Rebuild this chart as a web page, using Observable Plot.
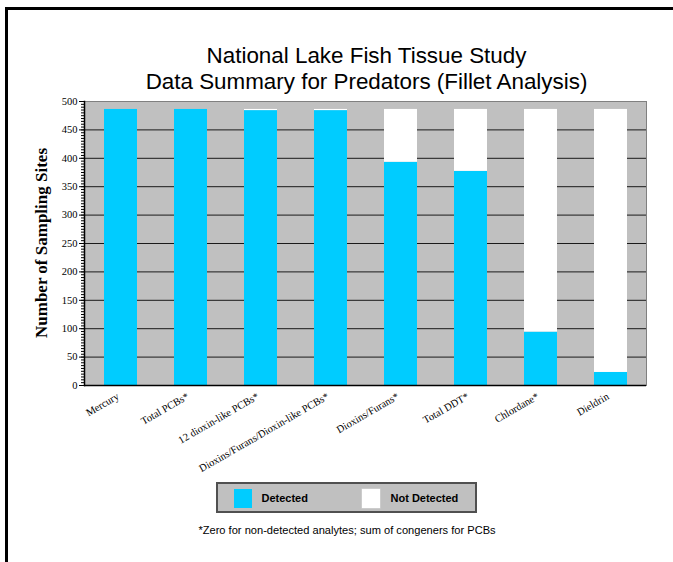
<!DOCTYPE html>
<html><head><meta charset="utf-8">
<script src="https://cdn.jsdelivr.net/npm/d3@7"></script>
<script src="https://cdn.jsdelivr.net/npm/@observablehq/plot@0.6"></script>
<style>
html,body{margin:0;padding:0;background:#fff}
body{width:673px;height:562px;overflow:hidden;position:relative;font-family:"Liberation Sans",Arial,sans-serif;color:#000}
#ftop{position:absolute;left:5px;top:7px;width:668px;height:2.5px;background:#000}
#fleft{position:absolute;left:5px;top:7px;width:2.5px;height:555px;background:#000}
#title{position:absolute;left:0;top:42.7px;width:733px;text-align:center;font-size:22.4px;line-height:26px;white-space:nowrap}
#ylabel{position:absolute;left:42px;top:243px;transform:translate(-50%,-50%) rotate(-90deg);font-family:"Liberation Serif","Times New Roman",serif;font-weight:bold;font-size:17px;white-space:nowrap}
#chart{position:absolute;left:0;top:0}
#legend{position:absolute;left:215.5px;top:482px;width:261px;height:31px;background:#c0c0c0;border:2px solid #505050;box-sizing:border-box}
.sw{position:absolute;top:5px;width:18px;height:19px}
.lt{position:absolute;top:8px;font-weight:bold;font-size:11px;line-height:13px;white-space:nowrap}
#note{position:absolute;left:0;top:524px;width:694px;text-align:center;font-size:11.1px;line-height:13px;white-space:nowrap}
</style></head>
<body>
<div id="ftop"></div>
<div id="fleft"></div>
<div id="title">National Lake Fish Tissue Study<br>Data Summary for Predators (Fillet Analysis)</div>
<div id="chart"></div>
<div id="ylabel">Number of Sampling Sites</div>
<div id="legend">
  <div class="sw" style="left:16px;background:#00CCFF"></div>
  <div class="lt" style="left:44px">Detected</div>
  <div class="sw" style="left:144px;background:#fff;box-shadow:0 0 0 0.5px #d8d8d8"></div>
  <div class="lt" style="left:173px">Not Detected</div>
</div>
<div id="note">*Zero for non-detected analytes; sum of congeners for PCBs</div>
<script>
const categories = ["Mercury","Total PCBs*","12 dioxin-like PCBs*","Dioxins/Furans/Dioxin-like PCBs*","Dioxins/Furans*","Total DDT*","Chlordane*","Dieldrin"];
const detected =    [486, 486, 484, 484, 393, 377, 94, 23];
const notDetected = [0,   0,   2,   2,   93,  109, 392, 463];
const seriesNames = ["Detected","Not Detected"];
const seriesColors = ["#00CCFF","#FFFFFF"];
const yTicks = [0,50,100,150,200,250,300,350,400,450,500];
const gridTicks = [50,100,150,200,250,300,350,400,450];
const minorTicks = d3.range(0, 501, 5);

const rows = [];
categories.forEach((c, i) => {
  rows.push({category: c, series: seriesNames[0], value: detected[i]});
  rows.push({category: c, series: seriesNames[1], value: notDetected[i]});
});

const chart = Plot.plot({
  width: 673,
  height: 562,
  marginTop: 101,
  marginBottom: 177,
  marginLeft: 84,
  marginRight: 27,
  style: {fontFamily: "'Liberation Serif','Times New Roman',serif", background: "transparent", overflow: "visible"},
  x: {domain: categories, paddingInner: 0.53, paddingOuter: 0.265, label: null},
  y: {domain: [0, 500], label: null},
  color: {domain: seriesNames, range: seriesColors},
  marks: [
    Plot.frame({fill: "#c0c0c0", stroke: "#808080"}),
    Plot.gridY(gridTicks, {stroke: "#1a1a1a", strokeOpacity: 1, strokeWidth: 1}),
    Plot.barY(rows, {x: "category", y: "value", fill: "series", order: seriesNames}),
    Plot.axisY(minorTicks, {tickSize: 3, text: null, stroke: "#000"}),
    Plot.axisY(yTicks, {tickSize: 5, tickPadding: 2, fontSize: 10.5, label: null}),
    Plot.frame({anchor: "left", stroke: "#000", strokeWidth: 1.5}),
    Plot.ruleY([0], {stroke: "#000", strokeWidth: 1.5}),
    Plot.axisX({tickSize: 0, tickRotate: -30, tickPadding: 6, dx: -3, dy: 4, fontSize: 10.5, label: null})
  ]
});
document.getElementById("chart").appendChild(chart);
</script>
</body></html>
